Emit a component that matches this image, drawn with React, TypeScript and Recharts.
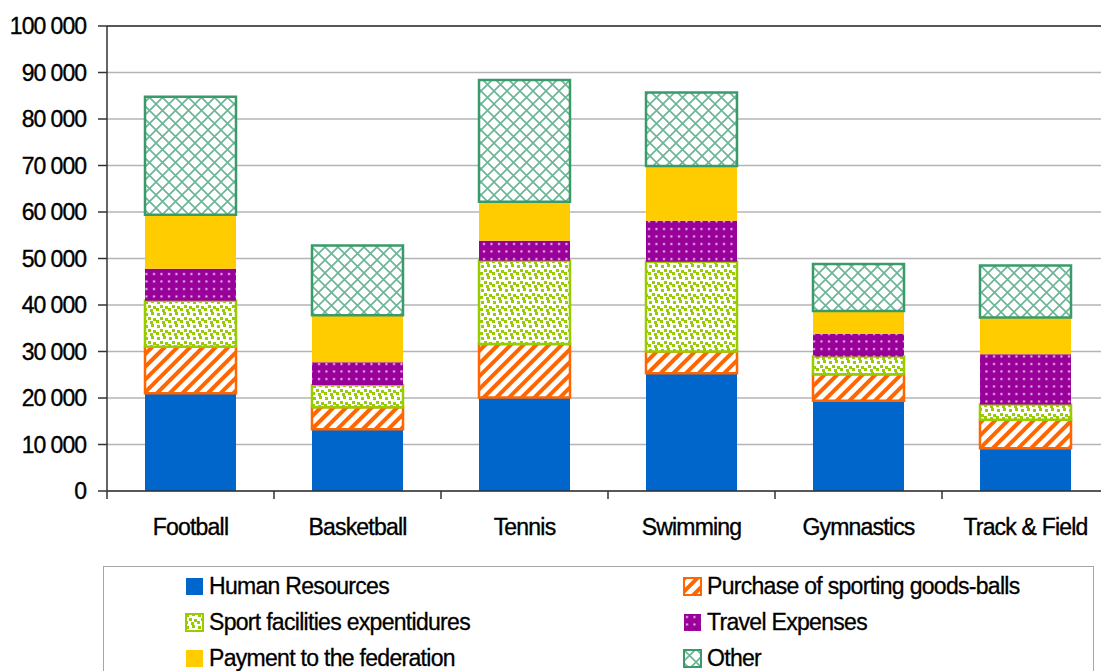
import React from "react"
import {
  Bar,
  BarChart,
  CartesianGrid,
  ReferenceLine,
  XAxis,
  YAxis,
} from "recharts"

const CATEGORIES = ["Football", "Basketball", "Tennis", "Swimming", "Gymnastics", "Track & Field"]
const HUMAN_RESOURCES = [21000, 13300, 20100, 25300, 19400, 9200]
const PURCHASE = [10000, 4700, 11500, 4700, 5700, 6100]
const FACILITIES = [9900, 4800, 17900, 19300, 3800, 3300]
const TRAVEL = [6900, 4900, 4300, 8800, 4900, 10800]
const FEDERATION = [11600, 10100, 8400, 11800, 4900, 7900]
const OTHER = [25400, 15000, 26200, 15800, 10100, 11200]
const Y_TICKS = [0, 10000, 20000, 30000, 40000, 50000, 60000, 70000, 80000, 90000, 100000]

const FONT = '"Liberation Sans", Arial, sans-serif'

const SERIES = [
  { key: "hr", name: "Human Resources", fill: "#0066CC", stroke: "none" },
  { key: "purchase", name: "Purchase of sporting goods-balls", fill: "url(#stripes)", stroke: "#FF6600" },
  { key: "facilities", name: "Sport facilities expentidures", fill: "url(#confetti)", stroke: "#99CC00" },
  { key: "travel", name: "Travel Expenses", fill: "url(#dots)", stroke: "none" },
  { key: "federation", name: "Payment to the federation", fill: "#FFCC00", stroke: "none" },
  { key: "other", name: "Other", fill: "url(#hatch)", stroke: "#3A9A6A" },
]

const data = CATEGORIES.map((name, i) => ({
  name,
  hr: HUMAN_RESOURCES[i],
  purchase: PURCHASE[i],
  facilities: FACILITIES[i],
  travel: TRAVEL[i],
  federation: FEDERATION[i],
  other: OTHER[i],
}))

const formatThousands = (v: number) =>
  String(v).replace(/\B(?=(\d{3})+(?!\d))/g, " ")

function Patterns() {
  return (
    <svg width={0} height={0} style={{ position: "absolute" }}>
      <defs>
        <pattern id="stripes" width="9" height="9" patternUnits="userSpaceOnUse" patternTransform="rotate(45)">
          <rect width="9" height="9" fill="#fff" />
          <rect x="0" width="4" height="9" fill="#FF6600" />
        </pattern>
        <pattern id="confetti" width="12" height="12" patternUnits="userSpaceOnUse">
          <rect width="12" height="12" fill="#fff" />
          <rect x="1" y="1" width="3" height="3" fill="#99CC00" />
          <rect x="7" y="0" width="3" height="3" fill="#99CC00" />
          <rect x="4" y="5" width="3" height="3" fill="#99CC00" />
          <rect x="9" y="6" width="3" height="3" fill="#99CC00" />
          <rect x="0" y="8" width="3" height="3" fill="#99CC00" />
          <rect x="6" y="9" width="3" height="3" fill="#99CC00" />
        </pattern>
        <pattern id="dots" width="7.5" height="7.5" patternUnits="userSpaceOnUse">
          <rect width="7.5" height="7.5" fill="#990099" />
          <rect x="3" y="3" width="2" height="2" fill="#F2C8F2" />
        </pattern>
        <pattern id="hatch" width="13" height="13" patternUnits="userSpaceOnUse">
          <rect width="13" height="13" fill="#fff" />
          <path d="M0,0 L13,13 M13,0 L0,13" stroke="#6AB594" strokeWidth="1.6" />
        </pattern>
      </defs>
    </svg>
  )
}

function YTick(props: any) {
  const { x, y, payload } = props
  return (
    <text
      x={x}
      y={y}
      dy="0.36em"
      textAnchor="end"
      fill="#000"
      stroke="#000"
      strokeWidth={0.35}
      fontSize={23}
      fontFamily={FONT}
      style={{ letterSpacing: -1 }}
    >
      {formatThousands(payload.value)}
    </text>
  )
}

function XTick(props: any) {
  const { x, y, payload, width, visibleTicksCount } = props
  const band = width && visibleTicksCount ? width / visibleTicksCount : 167
  const edge = x - band / 2
  return (
    <g>
      <line x1={edge} x2={edge} y1={y - 8} y2={y} stroke="#333" strokeWidth={1.5} />
      <text
        x={x}
        y={y}
        dy={36}
        textAnchor="middle"
        fill="#000"
        stroke="#000"
        strokeWidth={0.35}
        fontSize={23}
        fontFamily={FONT}
        style={{ letterSpacing: -0.8 }}
      >
        {payload.value}
      </text>
    </g>
  )
}

function LegendBox() {
  return (
    <div
      style={{
        position: "absolute",
        left: 103,
        top: 566,
        width: 989,
        height: 130,
        border: "1.5px solid #A6A6A6",
        fontFamily: FONT,
        fontSize: 23,
        letterSpacing: -0.7,
        color: "#000",
        WebkitTextStroke: "0.3px #000",
      }}
    >
      {SERIES.map((s, i) => {
        const col = i % 2
        const row = Math.floor(i / 2)
        return (
          <div
            key={s.key}
            style={{
              position: "absolute",
              left: col === 0 ? 81 : 579,
              top: 2 + row * 36,
              height: 34,
              display: "flex",
              alignItems: "center",
              whiteSpace: "nowrap",
            }}
          >
            <svg width={19} height={19} style={{ marginRight: 5 }}>
              <rect
                x={1}
                y={1}
                width={17}
                height={17}
                fill={s.fill}
                stroke={s.stroke}
                strokeWidth={s.stroke === "none" ? 0 : 2}
              />
            </svg>
            <span>{s.name}</span>
          </div>
        )
      })}
    </div>
  )
}

export default function App() {
  return (
    <div
      style={{
        position: "absolute",
        left: 0,
        top: 0,
        width: 1101,
        height: 671,
        overflow: "hidden",
        background: "#fff",
      }}
    >
      <Patterns />
      <BarChart
        width={1112}
        height={671}
        data={data}
        margin={{ top: 26, right: 3, left: 0, bottom: 120 }}
      >
        <CartesianGrid vertical={false} stroke="#B4B4B4" strokeWidth={1.5} />
        <XAxis
          dataKey="name"
          height={60}
          tickLine={false}
          tickSize={8}
          tickMargin={0}
          axisLine={{ stroke: "#333", strokeWidth: 1.5 }}
          tick={<XTick />}
          interval={0}
        />
        <YAxis
          width={107}
          domain={[0, 100000]}
          ticks={Y_TICKS}
          tickSize={9}
          tickMargin={12}
          tickLine={{ stroke: "#333", strokeWidth: 1.5 }}
          axisLine={{ stroke: "#333", strokeWidth: 1.5 }}
          tick={<YTick />}
          interval={0}
        />
        <ReferenceLine y={100000} stroke="#333" strokeWidth={1.5} />
        {SERIES.map((s) => (
          <Bar
            key={s.key}
            dataKey={s.key}
            name={s.name}
            stackId="total"
            fill={s.fill}
            stroke={s.stroke}
            strokeWidth={s.stroke === "none" ? 0 : 2.5}
            barSize={91}
            isAnimationActive={false}
          />
        ))}
      </BarChart>
      <LegendBox />
    </div>
  )
}
